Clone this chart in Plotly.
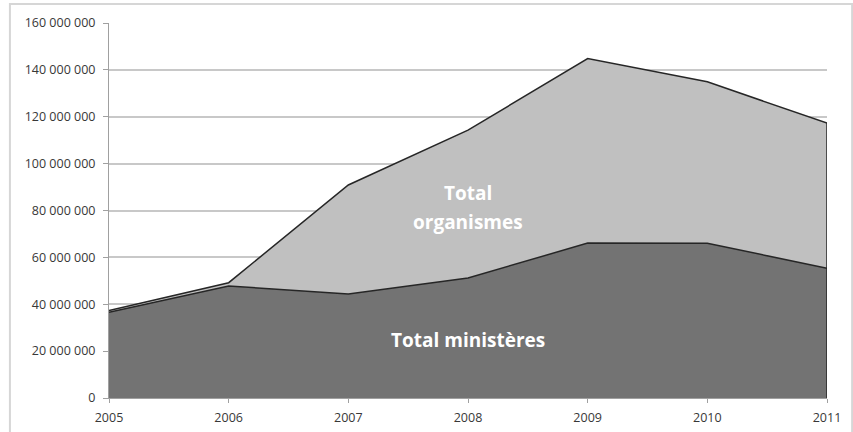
import plotly.graph_objects as go

years = [2005, 2006, 2007, 2008, 2009, 2010, 2011]
ministeres = [36.6e6, 47.8e6, 44.4e6, 51.2e6, 66.1e6, 66.0e6, 55.4e6]
total = [37.3e6, 49.2e6, 90.9e6, 114.3e6, 144.8e6, 134.9e6, 117.3e6]
organismes = [t - m for t, m in zip(total, ministeres)]
y_ticks = [0, 20e6, 40e6, 60e6, 80e6, 100e6, 120e6, 140e6, 160e6]
y_labels = ["0", "20 000 000", "40 000 000", "60 000 000", "80 000 000",
            "100 000 000", "120 000 000", "140 000 000", "160 000 000"]

fig = go.Figure()
fig.add_trace(go.Scatter(x=years, y=ministeres, stackgroup="s", mode="lines",
                         line=dict(color="#262626", width=1.5),
                         fillcolor="#737373", name="Total ministères"))
fig.add_trace(go.Scatter(x=years, y=organismes, stackgroup="s", mode="lines",
                         line=dict(color="#262626", width=1.5),
                         fillcolor="#c0c0c0", name="Total organismes"))
# right edge of the area
fig.add_trace(go.Scatter(x=[years[-1], years[-1]], y=[0, total[-1]], mode="lines",
                         line=dict(color="#262626", width=1.5), showlegend=False,
                         hoverinfo="skip"))

lab_font = dict(family="Open Sans", size=19, color="white")
fig.add_annotation(x=2008.0, y=87.5e6, text="<b>Total</b>", showarrow=False, font=lab_font)
fig.add_annotation(x=2008.0, y=75.2e6, text="<b>organismes</b>", showarrow=False, font=lab_font)
fig.add_annotation(x=2008.0, y=24.8e6, text="<b>Total ministères</b>", showarrow=False, font=lab_font)

fig.add_shape(type="rect", xref="paper", yref="paper",
              x0=-0.138, x1=1.035, y0=-0.3, y1=1.0507,
              line=dict(color="#d6d6d6", width=2), fillcolor="rgba(0,0,0,0)", layer="below")

fig.update_layout(
    width=853, height=432,
    margin=dict(l=109, r=26, t=23, b=34),
    paper_bgcolor="white", plot_bgcolor="white",
    showlegend=False,
    font=dict(family="Open Sans", size=12.5, color="#383838"),
    xaxis=dict(range=[2005, 2011], tickvals=years, ticktext=[str(y) for y in years],
               showgrid=False, showline=True, linecolor="#a0a0a0", linewidth=1,
               ticks="outside", ticklen=4, tickcolor="#a0a0a0", zeroline=False,
               ticklabelstandoff=4, automargin=False),
    yaxis=dict(range=[0, 160e6], tickvals=y_ticks, ticktext=y_labels,
               showgrid=True, gridcolor="#c8c8c8", gridwidth=1.5,
               showline=True, linecolor="#a0a0a0", linewidth=1,
               ticks="outside", ticklen=5, tickcolor="#a0a0a0", zeroline=False,
               ticklabelstandoff=5, automargin=False),
)

fig.write_html("out.html")
